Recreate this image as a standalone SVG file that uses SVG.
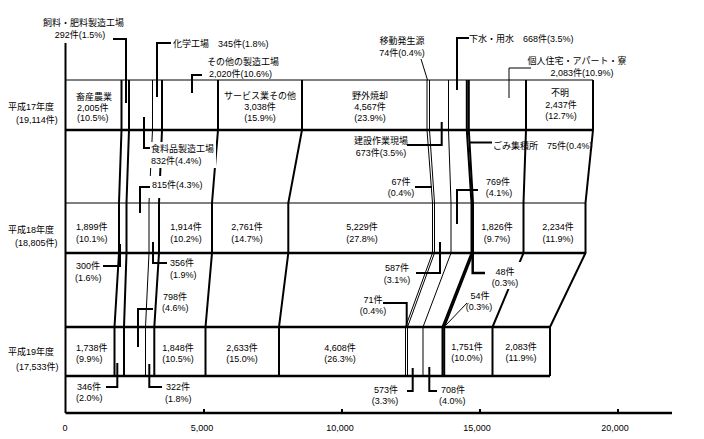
<svg xmlns="http://www.w3.org/2000/svg" width="704" height="439" viewBox="0 0 704 439">
<style>
text{font-family:"Liberation Sans","Noto Sans CJK JP",sans-serif;font-size:9px;fill:#000}
.m{text-anchor:middle}
.ln{fill:none;stroke:#000;stroke-linejoin:miter}
.t1{stroke-width:1}
.t2{stroke-width:2}
.t3{stroke-width:2.5}
.bg{fill:#fff;stroke:none}
</style>
<rect width="704" height="439" fill="#fff"/>
<g id="frame">
<line class="ln t1" x1="65.5" y1="80" x2="593" y2="80"/>
<line class="ln t3" x1="65.5" y1="130" x2="593" y2="130"/>
<line class="ln t1" x1="65.5" y1="203" x2="585.5" y2="203"/>
<line class="ln t3" x1="65.5" y1="253" x2="585.5" y2="253"/>
<line class="ln t3" x1="65.5" y1="327" x2="550" y2="327"/>
<line class="ln t3" x1="65.5" y1="376" x2="550" y2="376"/>
<line class="ln t2" x1="65.5" y1="43" x2="65.5" y2="413"/>
<line class="ln t3" x1="65.5" y1="413" x2="672" y2="413"/>
<line class="ln t2" x1="204" y1="409" x2="204" y2="413"/>
<line class="ln t2" x1="342" y1="409" x2="342" y2="413"/>
<line class="ln t2" x1="480" y1="409" x2="480" y2="413"/>
<line class="ln t2" x1="618" y1="409" x2="618" y2="413"/>
</g>
<g id="boundaries">
<polyline class="ln t2" points="121.5,80 121.5,130 119,203 119,253 114.5,327 114.5,376"/>
<polyline class="ln t2" points="129,80 129,130 126.5,203 126.5,253 124,327 124,376"/>
<polyline class="ln t1" points="152.5,80 152.5,130 149,203 149,253 145.5,327 145.5,376"/>
<polyline class="ln t2" points="162,80 162,130 159,203 159,253 154.3,327 154.3,376"/>
<polyline class="ln t2" points="218,80 218,130 212,203 212,253 205.5,327 205.5,376"/>
<polyline class="ln t2" points="302,80 302,130 288.3,203 288.3,253 279,327 279,376"/>
<polyline class="ln t1" points="427,80 427,130 432.5,203 432.5,253 405.5,327 405.5,376"/>
<polyline class="ln t1" points="429.5,80 429.5,130 434.5,203 434.5,253 407.5,327 407.5,376"/>
<polyline class="ln t1" points="448.5,80 448.5,130 451,203 451,253 423,327 423,376"/>
<polyline class="ln t2" points="466.8,80 466.8,130 471.5,203 471.5,253 442.5,327 442.5,376"/>
<polyline class="ln t2" points="468.8,80 468.8,130 473,203 473,253 444.2,327 444.2,376"/>
<polyline class="ln t2" points="526,80 526,130 523.5,203 523.5,253 492.5,327 492.5,376"/>
<polyline class="ln t2" points="593,80 593,130 585.5,203 585.5,253 550,327 550,376"/>
</g>
<g id="label-bg">
<rect class="bg" x="148" y="142" width="68" height="26"/>
<rect class="bg" x="148" y="176" width="52" height="22"/>
<rect class="bg" x="489" y="262" width="33" height="27"/>
</g>
<g id="connectors">
<polyline class="ln t2" points="113,39 126,39 126,103"/>
<polyline class="ln t2" points="171,43 157,43 157,97"/>
<polyline class="ln t2" points="202,75 192,75 192,93"/>
<line class="ln t1" x1="421" y1="59" x2="427.5" y2="80"/>
<polyline class="ln t2" points="469,38 457,38 457,90"/>
<polyline class="ln t1" points="531,68 509,68 509,98"/>
<polyline class="ln t2" points="144,117 144,148 150,148"/>
<polyline class="ln t2" points="150,187 140,187 140,213"/>
<polyline class="ln t2" points="407,145 441.7,145 441.7,122"/>
<line class="ln t2" x1="470" y1="142.5" x2="492" y2="142.5"/>
<line class="ln t2" x1="415" y1="187" x2="432" y2="187"/>
<polyline class="ln t2" points="478,190 457,190 457,224"/>
<polyline class="ln t2" points="103,266 120,266 120,244"/>
<polyline class="ln t2" points="153,242 153,263 167,263"/>
<polyline class="ln t2" points="153,309 138,309 138,347"/>
<polyline class="ln t2" points="416,273 440,273 440,242"/>
<polyline class="ln t3" points="472.7,253 472.7,273 485,273"/>
<polyline class="ln t2" points="383,303 406.7,303 406.7,327"/>
<line class="ln t1" x1="467" y1="303" x2="446" y2="325"/>
<polyline class="ln t2" points="106,387 117.3,387 117.3,363"/>
<polyline class="ln t2" points="149.3,364 149.3,387 162,387"/>
<polyline class="ln t2" points="407,391 412.7,391 412.7,368"/>
<polyline class="ln t2" points="429.3,367 429.3,391 437,391"/>
</g>
<g id="labels-top">
<text x="43" y="26">飼料・肥料製造工場</text>
<text class="m" x="80" y="37.5">292件(1.5%)</text>
<text x="173" y="46.5">化学工場　345件(1.8%)</text>
<text x="207" y="65">その他の製造工場</text>
<text x="209" y="77">2,020件(10.6%)</text>
<text class="m" x="402" y="44">移動発生源</text>
<text class="m" x="402" y="55.5">74件(0.4%)</text>
<text x="469" y="41.5">下水・用水　668件(3.5%)</text>
<text class="m" x="577" y="63.5">個人住宅・アパート・寮</text>
<text class="m" x="582" y="75.5">2,083件(10.9%)</text>
</g>
<g id="row-h17">
<text x="8" y="109.5">平成17年度</text>
<text x="16" y="123">(19,114件)</text>
<text x="76" y="99.5">畜産農業</text>
<text x="77" y="110.5">2,005件</text>
<text x="77" y="121">(10.5%)</text>
<text class="m" x="260" y="99">サービス業その他</text>
<text class="m" x="260" y="110">3,038件</text>
<text class="m" x="260" y="121">(15.9%)</text>
<text class="m" x="370" y="99">野外焼却</text>
<text class="m" x="370" y="110">4,567件</text>
<text class="m" x="370" y="121">(23.9%)</text>
<text class="m" x="560" y="95.5">不明</text>
<text class="m" x="561" y="107.5">2,437件</text>
<text class="m" x="561" y="119">(12.7%)</text>
</g>
<g id="labels-mid1">
<text x="151" y="152">食料品製造工場</text>
<text x="151" y="164">832件(4.4%)</text>
<text x="152" y="187.5">815件(4.3%)</text>
<text class="m" x="381" y="144">建設作業現場</text>
<text class="m" x="381" y="155.5">673件(3.5%)</text>
<text x="493" y="148.5">ごみ集積所　75件(0.4%)</text>
<text class="m" x="401" y="184.5">67件</text>
<text class="m" x="401" y="196">(0.4%)</text>
<text class="m" x="498" y="184.5">769件</text>
<text class="m" x="499" y="196">(4.1%)</text>
</g>
<g id="row-h18">
<text x="8" y="232.5">平成18年度</text>
<text x="15" y="245.5">(18,805件)</text>
<text x="76" y="229.5">1,899件</text>
<text x="76" y="241.5">(10.1%)</text>
<text class="m" x="186" y="229.5">1,914件</text>
<text class="m" x="186" y="241.5">(10.2%)</text>
<text class="m" x="247" y="229.5">2,761件</text>
<text class="m" x="247" y="241.5">(14.7%)</text>
<text class="m" x="362" y="229.5">5,229件</text>
<text class="m" x="362" y="241.5">(27.8%)</text>
<text class="m" x="497" y="229.5">1,826件</text>
<text class="m" x="497" y="241.5">(9.7%)</text>
<text class="m" x="558" y="229.5">2,234件</text>
<text class="m" x="558" y="241.5">(11.9%)</text>
</g>
<g id="labels-mid2">
<text x="76" y="268.5">300件</text>
<text x="75" y="280.5">(1.6%)</text>
<text x="170" y="265.5">356件</text>
<text x="170" y="277.5">(1.9%)</text>
<text x="163" y="299.5">798件</text>
<text x="162" y="310.5">(4.6%)</text>
<text class="m" x="397" y="271">587件</text>
<text class="m" x="397" y="282.5">(3.1%)</text>
<text class="m" x="373" y="302.5">71件</text>
<text class="m" x="373" y="314">(0.4%)</text>
<text class="m" x="505" y="274.5">48件</text>
<text class="m" x="505" y="285.5">(0.3%)</text>
<text class="m" x="480" y="298.5">54件</text>
<text class="m" x="479" y="309.5">(0.3%)</text>
</g>
<g id="row-h19">
<text x="8" y="355">平成19年度</text>
<text x="16" y="370">(17,533件)</text>
<text x="76" y="350.5">1,738件</text>
<text x="76" y="361.5">(9.9%)</text>
<text class="m" x="178" y="350.5">1,848件</text>
<text class="m" x="178" y="361.5">(10.5%)</text>
<text class="m" x="242" y="350.5">2,633件</text>
<text class="m" x="242" y="361.5">(15.0%)</text>
<text class="m" x="340" y="350.5">4,608件</text>
<text class="m" x="340" y="361.5">(26.3%)</text>
<text class="m" x="467" y="349.5">1,751件</text>
<text class="m" x="467" y="360.5">(10.0%)</text>
<text class="m" x="521" y="349.5">2,083件</text>
<text class="m" x="521" y="360.5">(11.9%)</text>
</g>
<g id="labels-bottom">
<text x="77" y="389.5">346件</text>
<text x="76" y="400.5">(2.0%)</text>
<text x="166" y="390">322件</text>
<text x="165" y="401.5">(1.8%)</text>
<text class="m" x="386" y="392.5">573件</text>
<text class="m" x="385" y="404">(3.3%)</text>
<text x="441" y="392.5">708件</text>
<text x="439" y="404">(4.0%)</text>
</g>
<g id="axis-labels">
<text class="m" x="65" y="430.5">0</text>
<text class="m" x="202" y="430.5">5,000</text>
<text class="m" x="340" y="430.5">10,000</text>
<text class="m" x="477" y="430.5">15,000</text>
<text class="m" x="615" y="430.5">20,000</text>
</g>
</svg>
